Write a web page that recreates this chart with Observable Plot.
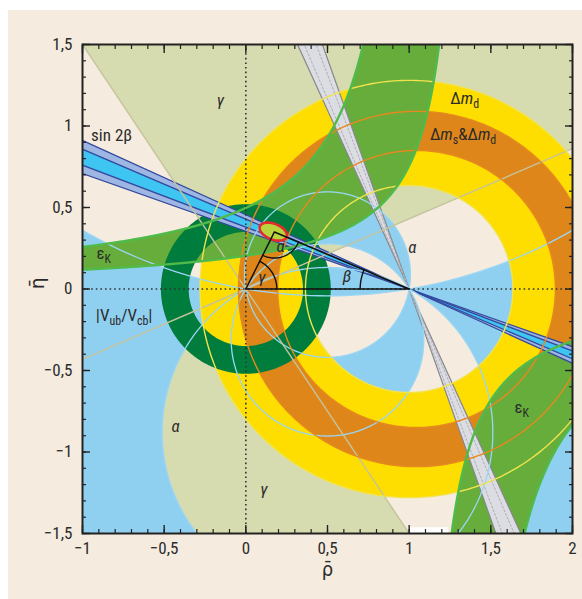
<!DOCTYPE html>
<html><head><meta charset="utf-8">
<script src="https://cdn.jsdelivr.net/npm/d3@7"></script>
<script src="https://cdn.jsdelivr.net/npm/@observablehq/plot@0.6"></script>
<style>
html,body{margin:0;padding:0;background:#fff;width:582px;height:599px;overflow:hidden;}
#panel{position:absolute;left:8px;top:10px;width:574px;height:589px;background:#f5ecdf;}
#chart{position:absolute;left:0;top:0;}
</style></head><body><div id="panel"></div><div id="chart"></div>
<script>
// ---------- tick data ----------
const xTicks = [-1, -0.5, 0, 0.5, 1, 1.5, 2];
const xTickLabels = ["−1", "−0,5", "0", "0,5", "1", "1,5", "2"];
const yTicks = [-1.5, -1, -0.5, 0, 0.5, 1, 1.5];
const yTickLabels = ["−1,5", "−1", "−0,5", "0", "0,5", "1", "1,5"];
const xMinorTicks = d3.range(-10, 21).map(i => i / 10);
const yMinorTicks = d3.range(-15, 16).map(i => i / 10);

// ---------- constraint values ----------
const gammaRange = [23.3, 123.7];                 // γ in degrees (and γ+180°)
const alphaRanges = [[150.4, 189.6], [80, 122]];  // α ranges (deg, mod 180°)
const alphaLines = [9.6, 80, 122, 150.4];         // α contour lines
const beta2sigma = [19.5, 24.5];                  // sin2β outer band (β, deg)
const beta1sigma = [20.8, 23.2];                  // sin2β inner band
const dmdCenter = [1, 0];
const dmdRadii = [0.635, 1.28];                   // Δm_d ring
const dmsCenter = [1.045, 0];
const dmsRadii = [0.85, 1.09];                    // Δm_s & Δm_d ring
const vubRadii = [0.35, 0.52];                    // |Vub/Vcb| ring about (0,0)
const epsUpper = [[1.075, 0.535], [1.37, 0.28]];  // εK hyperbola (ρ0, k) outer, inner
const epsLower = [[1.34, 0.55], [1.06, 0.30]];
const fitCenter = [0.168, 0.352];
const fitAxes = [0.088, 0.048];
const fitAngle = -22;
const apex = [0.175, 0.35];
const whiteStrip = [{x1: 1.0, x2: 1.24, y1: -1.5, y2: -1.465}];

const labels = [
  {text: "sin 2β", x: -0.822, y: 0.943},
  {text: "γ", x: -0.155, y: 1.155},
  {text: "Δmd", x: 1.34, y: 1.17},
  {text: "Δms&Δmd", x: 1.33, y: 0.95},
  {text: "εK", x: -0.87, y: 0.215},
  {text: "εK", x: 1.69, y: -0.725},
  {text: "α", x: 1.02, y: 0.255},
  {text: "α", x: -0.43, y: -0.845},
  {text: "γ", x: 0.11, y: -1.23},
  {text: "|Vub/Vcb|", x: -0.745, y: -0.16},
  {text: "β", x: 0.62, y: 0.078},
  {text: "α", x: 0.212, y: 0.258},
  {text: "γ", x: 0.098, y: 0.072}
];
const rich = {
  "γ": [["γ", "i"]],
  "α": [["α", "i"]],
  "β": [["β", "i"]],
  "Δmd": [["Δ"], ["m", "i"], ["d", "sub"]],
  "Δms&Δmd": [["Δ"], ["m", "i"], ["s", "sub"], ["&Δ"], ["m", "i"], ["d", "sub"]],
  "εK": [["ε"], ["K", "sub"]],
  "|Vub/Vcb|": [["|V"], ["ub", "sub"], ["/V"], ["cb", "sub"], ["|"]]
};

// ---------- colours ----------
const C = {
  khaki: "#d6dbb0", khakiLine: "#c4c39c",
  alpha: "#8fd0f1", alphaLine: "#9ad6f4",
  yellow: "#fedd00", yellowLine: "#f1e34e",
  orange: "#df861a", orangeLine: "#e6891e",
  eps: "#66ad3b", epsLine: "#50ba4b",
  vub: "#007c3d",
  bOuter: "#9db6e4", bInner: "#3fc5f2", bLine: "#34499d",
  gFill: "#dcdde3", gEdge: "#86878e", gInner: "#aeafb6",
  ell: "#e52a2e", ellFill: "#b8d43c", ink: "#2b2b2b"
};

// ---------- geometry helpers ----------
const R = 6, rad = a => a * Math.PI / 180;
function circle(cx, cy, r, sign, n = 360) {
  const p = [];
  for (let i = 0; i <= n; i++) { const t = sign * 2 * Math.PI * i / n; p.push([cx + r * Math.cos(t), cy + r * Math.sin(t)]); }
  return p;
}
function arc(cx, cy, r, a1, a2, n = 60) {
  const p = [];
  for (let i = 0; i <= n; i++) { const t = rad(a1 + (a2 - a1) * i / n); p.push([cx + r * Math.cos(t), cy + r * Math.sin(t)]); }
  return p;
}
function alphaCircle(a) { const t = rad(a); return [0.5, 0.5 / Math.tan(t), 0.5 / Math.abs(Math.sin(t))]; }
function rows(subpaths, g) {
  const out = [];
  for (const sp of subpaths) { for (const [x, y] of sp) out.push({x, y, g}); out.push({x: NaN, y: NaN, g}); }
  return out;
}
function doubleWedge(px, py, a1, a2) {
  return [[[px, py], ...arc(px, py, R, a1, a2, 40), [px, py], ...arc(px, py, R, a1 + 180, a2 + 180, 40), [px, py]]];
}
function annulus(cx, cy, r1, r2) { return [circle(cx, cy, r2, 1), circle(cx, cy, r1, -1)]; }
function hyper(r0, k, x0, x1, n = 500) {
  const p = [];
  for (let i = 0; i <= n; i++) { const x = x0 + (x1 - x0) * i / n; p.push([x, k / (r0 - x)]); }
  return p;
}
function lineThrough(px, py, a) { const t = rad(a); return [[px - R * Math.cos(t), py - R * Math.sin(t)], [px + R * Math.cos(t), py + R * Math.sin(t)]]; }

// ---------- build shapes ----------
const gammaRows = rows(doubleWedge(0, 0, gammaRange[0], gammaRange[1]), "g");

const alphaRows = alphaRanges.flatMap(([a1, a2], i) => {
  if (a2 > 180) {
    const [c1x, c1y, r1] = alphaCircle(a1), [c2x, c2y, r2] = alphaCircle(a2 - 180);
    const big = [[-3, -3], [4, -3], [4, 3], [-3, 3], [-3, -3]];
    return rows([big, circle(c1x, c1y, r1, -1), circle(c2x, c2y, r2, -1)], "a" + i);
  }
  const [c1x, c1y, r1] = alphaCircle(a1), [c2x, c2y, r2] = alphaCircle(a2);
  return rows([circle(c1x, c1y, r1, 1), circle(c2x, c2y, r2, -1)], "a" + i);
});
const alphaLineRows = alphaLines.flatMap((a, i) => { const [cx, cy, r] = alphaCircle(a); return rows([circle(cx, cy, r, 1)], "l" + i); });

const dmdRows = rows(annulus(dmdCenter[0], dmdCenter[1], dmdRadii[0], dmdRadii[1]), "d");
const dmsRows = rows(annulus(dmsCenter[0], dmsCenter[1], dmsRadii[0], dmsRadii[1]), "s");
const dmdLineRows = dmdRadii.flatMap((r, i) => rows([circle(dmdCenter[0], dmdCenter[1], r, 1)], "dl" + i));
const dmsLineRows = dmsRadii.flatMap((r, i) => rows([circle(dmsCenter[0], dmsCenter[1], r, 1)], "sl" + i));
const vubRows = rows(annulus(0, 0, vubRadii[0], vubRadii[1]), "v");

const [uo, ui] = epsUpper, [lo, li] = epsLower;
const epsUpperOuter = hyper(uo[0], uo[1], -1.5, uo[0] - uo[1] / 2.2);
const epsUpperInner = hyper(ui[0], ui[1], -1.5, ui[0] - ui[1] / 2.2);
const epsLowerOuter = hyper(lo[0], lo[1], lo[0] + lo[1] / 2.2, 2.5);
const epsLowerInner = hyper(li[0], li[1], li[0] + li[1] / 2.2, 2.5);
const epsRows = [
  ...rows([[...epsUpperOuter, ...epsUpperInner.slice().reverse()]], "eu"),
  ...rows([[...epsLowerOuter, ...epsLowerInner.slice().reverse()]], "el")
];
const epsLineRows = [epsUpperOuter, epsUpperInner, epsLowerOuter, epsLowerInner].flatMap((c, i) => rows([c], "e" + i));

const bOuterRows = rows(doubleWedge(1, 0, 180 - beta2sigma[1], 180 - beta2sigma[0]), "bo");
const bInnerRows = rows(doubleWedge(1, 0, 180 - beta1sigma[1], 180 - beta1sigma[0]), "bi");
const bLineRows = [...beta2sigma, ...beta1sigma].flatMap((b, i) => rows([lineThrough(1, 0, 180 - b)], "bl" + i));
const gRows = rows(doubleWedge(1, 0, 90 + beta2sigma[0], 90 + beta2sigma[1]), "gw");
const gEdgeRows = beta2sigma.flatMap((b, i) => rows([lineThrough(1, 0, 90 + b)], "ge" + i));
const gInnerRows = beta1sigma.flatMap((b, i) => rows([lineThrough(1, 0, 90 + b)], "gi" + i));
const gammaLineRows = gammaRange.flatMap((a, i) => rows([lineThrough(0, 0, a)], "gl" + i));

const ell = [];
for (let i = 0; i <= 120; i++) {
  const t = 2 * Math.PI * i / 120, f = rad(fitAngle);
  const u = fitAxes[0] * Math.cos(t), v = fitAxes[1] * Math.sin(t);
  ell.push({x: fitCenter[0] + u * Math.cos(f) - v * Math.sin(f), y: fitCenter[1] + u * Math.sin(f) + v * Math.cos(f)});
}
const toApexDeg = Math.atan2(apex[1], apex[0]) * 180 / Math.PI;
const fromOneDeg = Math.atan2(apex[1], apex[0] - 1) * 180 / Math.PI;
const triRows = rows([[[0, 0], [1, 0], apex, [0, 0]]], "t");
const angleRows = [
  ...rows([arc(0, 0, 0.19, 0, toApexDeg)], "ga"),
  ...rows([arc(1, 0, 0.3, fromOneDeg, 180)], "ba"),
  ...rows([arc(apex[0], apex[1], 0.16, toApexDeg + 180, fromOneDeg + 180)], "aa")
];

const fillLine = (data, color) => Plot.line(data, {x: "x", y: "y", z: "g", fill: color, stroke: "none", clip: true});
const strokeLine = (data, color, w, extra = {}) => Plot.line(data, {x: "x", y: "y", z: "g", stroke: color, strokeWidth: w, fill: "none", clip: true, ...extra});
const noText = () => "";

const svg = Plot.plot({
  width: 582, height: 599,
  marginLeft: 82, marginRight: 10, marginTop: 44, marginBottom: 66,
  x: {domain: [-1, 2]},
  y: {domain: [-1.5, 1.5]},
  style: {background: "transparent", fontFamily: "'Liberation Sans Narrow','Roboto Condensed','DejaVu Sans Condensed','Liberation Sans',sans-serif", color: C.ink},
  marks: [
    fillLine(gammaRows, C.khaki),
    fillLine(alphaRows, C.alpha),
    fillLine(dmdRows, C.yellow),
    fillLine(dmsRows, C.orange),
    fillLine(epsRows, C.eps),
    fillLine(vubRows, C.vub),
    fillLine(gRows, C.gFill),
    strokeLine(gEdgeRows, C.gEdge, 1.2),
    strokeLine(gInnerRows, C.gInner, 1, {strokeDasharray: "2,2"}),
    fillLine(bOuterRows, C.bOuter),
    fillLine(bInnerRows, C.bInner),
    strokeLine(bLineRows, C.bLine, 1.3),
    strokeLine(alphaLineRows, C.alphaLine, 1.3),
    strokeLine(gammaLineRows, C.khakiLine, 1.4),
    strokeLine(dmdLineRows, C.yellowLine, 1.4),
    strokeLine(dmsLineRows, C.orangeLine, 1.4),
    strokeLine(epsLineRows, C.epsLine, 2.4),
    Plot.rect(whiteStrip, {x1: "x1", x2: "x2", y1: "y1", y2: "y2", fill: "#ffffff"}),
    Plot.ruleX([0], {stroke: "#333", strokeWidth: 1.6, strokeDasharray: "1.6,3"}),
    Plot.ruleY([0], {stroke: "#333", strokeWidth: 1.6, strokeDasharray: "1.6,3"}),
    Plot.line(ell, {x: "x", y: "y", fill: C.ellFill, stroke: C.ell, strokeWidth: 2.6, clip: true}),
    strokeLine(triRows, "#111", 1.5),
    strokeLine(angleRows, "#111", 1.4),
    Plot.text(labels, {x: "x", y: "y", text: "text", fontSize: 17, fill: C.ink}),
    // ticks (inward) on all four sides
    Plot.axisX({ticks: xTicks, anchor: "bottom", tickSize: 8, dy: -8, tickFormat: noText, label: null, stroke: "#222", strokeWidth: 1.4}),
    Plot.axisX({ticks: xMinorTicks, anchor: "bottom", tickSize: 4, dy: -4, tickFormat: noText, label: null, stroke: "#222", strokeWidth: 1.2}),
    Plot.axisX({ticks: xTicks, anchor: "top", tickSize: 8, dy: 8, tickFormat: noText, label: null, stroke: "#222", strokeWidth: 1.4}),
    Plot.axisX({ticks: xMinorTicks, anchor: "top", tickSize: 4, dy: 4, tickFormat: noText, label: null, stroke: "#222", strokeWidth: 1.2}),
    Plot.axisY({ticks: yTicks, anchor: "left", tickSize: 8, dx: 8, tickFormat: noText, label: null, stroke: "#222", strokeWidth: 1.4}),
    Plot.axisY({ticks: yMinorTicks, anchor: "left", tickSize: 4, dx: 4, tickFormat: noText, label: null, stroke: "#222", strokeWidth: 1.2}),
    Plot.axisY({ticks: yTicks, anchor: "right", tickSize: 8, dx: -8, tickFormat: noText, label: null, stroke: "#222", strokeWidth: 1.4}),
    Plot.axisY({ticks: yMinorTicks, anchor: "right", tickSize: 4, dx: -4, tickFormat: noText, label: null, stroke: "#222", strokeWidth: 1.2}),
    Plot.axisX({ticks: xTicks, anchor: "bottom", tickSize: 0, tickPadding: 8, tickFormat: d => xTickLabels[xTicks.indexOf(d)], label: null, fontSize: 17, fill: C.ink}),
    Plot.axisY({ticks: yTicks, anchor: "left", tickSize: 0, tickPadding: 10, tickFormat: d => yTickLabels[yTicks.indexOf(d)], label: null, fontSize: 17, fill: C.ink}),
    Plot.text(["ρ\u0304"], {x: 0.5, frameAnchor: "bottom", dy: 42, fontSize: 20, fill: C.ink}),
    Plot.text(["η\u0304"], {y: 0, frameAnchor: "left", dx: -45, rotate: -90, fontSize: 20, fill: C.ink}),
    Plot.frame({stroke: "#222", strokeWidth: 2})
  ]
});

// rich text (italics, subscripts)
d3.select(svg).selectAll("text").each(function () {
  const t = this.textContent;
  if (!rich[t] || this.querySelector("tspan")) return;
  const sel = d3.select(this);
  sel.text(null);
  let shift = 0;
  for (const [s, st] of rich[t]) {
    const ts = sel.append("tspan").text(s);
    if (st === "i") ts.attr("font-style", "italic");
    if (st === "sub") { ts.attr("font-size", "0.7em").attr("dy", 4 - shift); shift = 4; }
    else if (shift) { ts.attr("dy", -shift); shift = 0; }
  }
});
document.getElementById("chart").appendChild(svg);
</script></body></html>
